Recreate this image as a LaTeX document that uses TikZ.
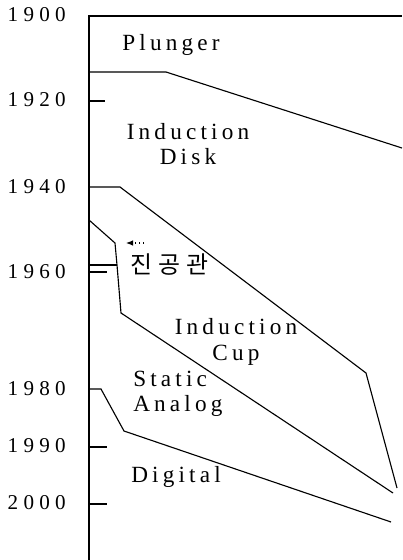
\documentclass[tikz,border=0pt]{standalone}
\usepackage{fontspec}
\setmainfont{Liberation Serif}
\newfontfamily\spfont[LetterSpace=18]{Liberation Serif}
\newfontfamily\yrfont[LetterSpace=25]{Liberation Serif}
\newfontfamily\krfont[LetterSpace=25]{Noto Sans CJK KR}
\usepackage{tikz}
\usetikzlibrary{arrows.meta}

\tikzset{
  bnd/.style={line width=0.8pt},
  yr/.style={anchor=east, inner sep=0pt, font=\yrfont\fontsize{15}{17}\selectfont},
  lbl/.style={inner sep=0pt, align=center, font=\spfont\fontsize{16.5}{20}\selectfont}
}

\begin{document}
\begin{tikzpicture}[x=0.025cm, y=-0.025cm]

      \useasboundingbox (0,0) rectangle (402,560);

      % axis and top edge
      \draw[bnd] (89,560) -- (89,16) -- (402,16);

      % year labels
      \node[yr] (y1900) at (66,15)  {1900};
      \node[yr] (y1920) at (66,100) {1920};
      \node[yr] (y1940) at (66,187) {1940};
      \node[yr] (y1960) at (66,272) {1960};
      \node[yr] (y1980) at (66,389) {1980};
      \node[yr] (y1990) at (66,446) {1990};
      \node[yr] (y2000) at (66,503) {2000};

      % ticks
      \draw[bnd] (89,101) -- (105,101);
      \draw[bnd] (89,272) -- (107,272);
      \draw[bnd] (89,447) -- (107,447);
      \draw[bnd] (89,504) -- (107,504);

      % Plunger / Induction Disk
      \draw[bnd] (89,72) -- (166,72) -- (402,148);
      % Induction Disk / Induction Cup
      \draw[bnd] (89,187) -- (120,187) -- (366,373) -- (397,488);
      % vacuum tube and Induction Cup / Static Analog
      \draw[bnd] (89,220) -- (115,243) -- (117,265) -- (121,313) -- (393,493);
      \draw[bnd] (89,265) -- (117,265);
      % Static Analog / Digital
      \draw[bnd] (89,389) -- (101,389) -- (124,431) -- (391,522);

      % region labels
      \node[lbl] (plunger) at (171,45)  {Plunger};
      \node[lbl] (disk)    at (188,144) {Induction\\[-2pt]Disk};
      \node[lbl] (cup)     at (236,342) {Induction\\[-2pt]Cup};
      \node[lbl, align=left, anchor=west] (static) at (133,394) {Static\\[-2pt]Analog};
      \node[lbl] (digital) at (176,477) {Digital};
      \node[inner sep=0pt, anchor=west, font=\krfont\fontsize{17}{20}\selectfont] (tube) at (130,265) {진공관};

      % pointer to the tube region
      \coordinate (ptail) at (144,243);
      \coordinate (phead) at (126,243);
      \draw[line width=0.8pt, dotted, -{Latex[length=5pt,width=4pt]}] (ptail) -- (phead);

    \end{tikzpicture}
\end{document}
